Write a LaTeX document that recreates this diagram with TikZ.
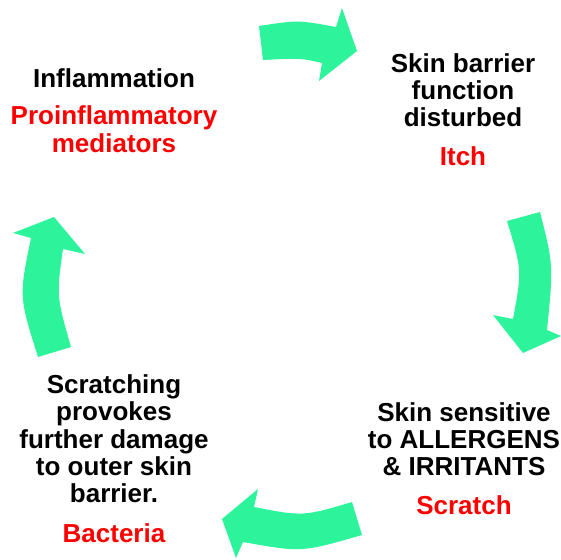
\documentclass[tikz,border=0pt]{standalone}
\usepackage{fontspec}
\setmainfont{Liberation Sans}
\definecolor{arrowgreen}{RGB}{45,244,155}
\definecolor{itchred}{RGB}{255,0,0}
\tikzset{
  stage/.style={font=\bfseries\fontsize{26}{27.3}\selectfont, align=center, inner sep=0pt, anchor=base},
  cyclearrow/.style={fill=arrowgreen, draw=none}
}
\begin{document}
\begin{tikzpicture}[x=1pt,y=-1pt]
			\useasboundingbox (0,0) rectangle (561,559);

			% Draw cycle arrows
			\path[cyclearrow] (259,26) .. controls (298,20) .. (336,27) -- (342,8) -- (357,51)
				-- (319,81) -- (322,63) .. controls (300,58) .. (263,60) -- cycle;
			\path[cyclearrow] (507,221) -- (540,212) .. controls (553.5,265) .. (547,330) -- (561,336)
				-- (523,353) -- (493,315) -- (513,319) .. controls (522,270) .. (507,221) -- cycle;
			\path[cyclearrow] (362,535) -- (352,502) .. controls (303,516.5) .. (254,507) -- (258,489)
				-- (222,519) -- (236,558) -- (243,542) .. controls (301.5,552.5) .. (362,535) -- cycle;
			\path[cyclearrow] (38,357) -- (71,347) .. controls (56.4,296) .. (63,249) -- (85,254)
				-- (54,217) -- (13,233) -- (31,238) .. controls (18.9,296.5) .. (38,357) -- cycle;

			% Label stages (base = last line)
			\node[stage] (inflam) at (114,152) {Inflammation\\[10pt]
				\textcolor{itchred}{Proinflammatory}\\\textcolor{itchred}{mediators}};
			\node[stage] (barrier) at (463,165) {Skin barrier\\function\\disturbed\\[11pt]
				\textcolor{itchred}{Itch}};
			\node[stage] (sensitive) at (464,514) {Skin sensitive\\to ALLERGENS\\\& IRRITANTS\\[11pt]
				\textcolor{itchred}{Scratch}};
			\node[stage] (scratching) at (114,542) {Scratching\\provokes\\further damage\\to outer skin\\barrier.\\[12pt]
				\textcolor{itchred}{Bacteria}};
		\end{tikzpicture}
\end{document}
